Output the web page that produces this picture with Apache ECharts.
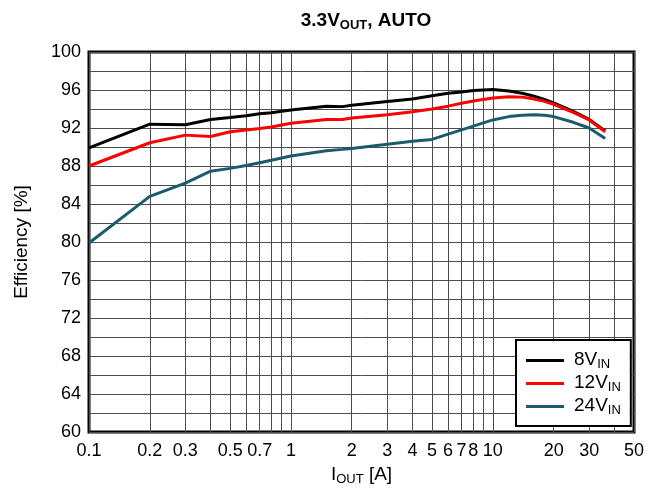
<!DOCTYPE html>
<html>
<head>
<meta charset="utf-8">
<script src="https://cdn.jsdelivr.net/npm/echarts@6/dist/echarts.min.js"></script>
<style>
  html, body { margin: 0; background: #fff; }
  #chart { width: 657px; height: 491px; }
</style>
</head>
<body>
<div id="chart"></div>
<script>
// output current [A]
const iout = [0.1, 0.2, 0.3, 0.4, 0.5, 0.6, 0.7, 0.8, 1, 1.5, 1.8, 2, 3, 4, 5, 6, 7, 8, 10, 12, 14, 16, 18, 20, 25, 30, 36];
// efficiency [%]
const eff8 = [89.9, 92.4, 92.35, 92.9, 93.1, 93.3, 93.5, 93.6, 93.9, 94.3, 94.25, 94.4, 94.8, 95.05, 95.4, 95.65, 95.8, 95.95, 96.05, 95.9, 95.65, 95.35, 95.0, 94.65, 93.75, 92.9, 91.7];
const eff12 = [88.0, 90.45, 91.25, 91.1, 91.6, 91.8, 91.95, 92.1, 92.5, 92.9, 92.9, 93.05, 93.4, 93.7, 94.0, 94.3, 94.6, 94.85, 95.15, 95.3, 95.25, 95.05, 94.8, 94.5, 93.65, 92.85, 91.6];
const eff24 = [79.9, 84.8, 86.2, 87.45, 87.75, 88.05, 88.35, 88.6, 89.05, 89.6, 89.75, 89.85, 90.3, 90.6, 90.8, 91.35, 91.8, 92.2, 92.85, 93.2, 93.35, 93.4, 93.35, 93.2, 92.6, 92.0, 90.9];

const seriesNames = ['8V_IN', '12V_IN', '24V_IN'];
const seriesColors = ['#000000', '#ff0000', '#1b5c6c'];

const xLabelValues = [0.1, 0.2, 0.3, 0.5, 0.7, 1, 2, 3, 4, 5, 6, 7, 8, 10, 20, 30, 50];
const xGridValues = [0.1, 0.2, 0.3, 0.4, 0.5, 0.6, 0.7, 0.8, 0.9, 1, 2, 3, 4, 5, 6, 7, 8, 9, 10, 20, 30, 40, 50];

const font = 'Liberation Sans, Arial, sans-serif';

function subText(name) {
  const parts = name.split('_');
  return '{n|' + parts[0] + '}{s|' + parts[1] + '}';
}

// main text + subscript styles for rich labels
function subRich(size, subSize, weight) {
  return {
    n: { fontFamily: font, fontSize: size, fontWeight: weight, color: '#000', lineHeight: size + 2, verticalAlign: 'top' },
    s: { fontFamily: font, fontSize: subSize, fontWeight: weight, color: '#000', lineHeight: subSize, verticalAlign: 'bottom' }
  };
}

const chart = echarts.init(document.getElementById('chart'));

chart.setOption({
  animation: false,
  backgroundColor: '#fff',
  title: {
    text: '{n|3.3V}{s|OUT}{n|, AUTO}',
    left: 361,
    top: 6,
    textAlign: 'center',
    textStyle: { rich: subRich(19, 13, 'bold') }
  },
  grid: {
    left: 89, right: 23, top: 52, bottom: 59,
    show: true,
    borderColor: '#000',
    borderWidth: 3,
    outerBoundsMode: 'none'
  },
  legend: {
    orient: 'vertical',
    left: 516,
    top: 340,
    padding: [10, 10, 9, 10],
    itemGap: 2,
    itemWidth: 38,
    itemHeight: 3,
    icon: 'rect',
    backgroundColor: '#fff',
    borderColor: '#000',
    borderWidth: 2,
    borderRadius: 0,
    data: seriesNames,
    formatter: subText,
    textStyle: {
      padding: [0, 0, 0, 5],
      rich: subRich(19, 13, 'normal')
    }
  },
  xAxis: {
    type: 'log',
    logBase: 10,
    min: 0.1,
    max: 50,
    name: '{n|I}{s|OUT}{n| [A]}',
    nameLocation: 'middle',
    nameGap: 33,
    nameTextStyle: { rich: subRich(19, 13, 'normal') },
    axisLine: { show: false },
    axisTick: { show: false, customValues: xGridValues },
    axisLabel: {
      customValues: xLabelValues,
      color: '#000',
      fontFamily: font,
      fontSize: 18,
      margin: 10,
      hideOverlap: false,
      formatter: (v) => String(parseFloat(Number(v).toPrecision(6)))
    },
    splitLine: { show: true, lineStyle: { color: '#4d4d4d', width: 1 } }
  },
  yAxis: {
    type: 'value',
    min: 60,
    max: 100,
    interval: 4,
    name: 'Efficiency [%]',
    nameLocation: 'middle',
    nameRotate: 90,
    nameGap: 58,
    nameTextStyle: { fontFamily: font, fontSize: 19, color: '#000' },
    axisLine: { show: false },
    axisTick: { show: false },
    axisLabel: { color: '#000', fontFamily: font, fontSize: 18, margin: 8 },
    splitLine: { show: true, lineStyle: { color: '#4d4d4d', width: 1 } },
    minorTick: { show: false, splitNumber: 2 },
    minorSplitLine: { show: true, lineStyle: { color: '#4d4d4d', width: 1 } }
  },
  series: [eff8, eff12, eff24].map((vals, k) => ({
    name: seriesNames[k],
    type: 'line',
    showSymbol: false,
    symbol: 'none',
    color: seriesColors[k],
    lineStyle: { color: seriesColors[k], width: 3 },
    data: iout.map((x, i) => [x, vals[i]])
  }))
});
</script>
</body>
</html>
